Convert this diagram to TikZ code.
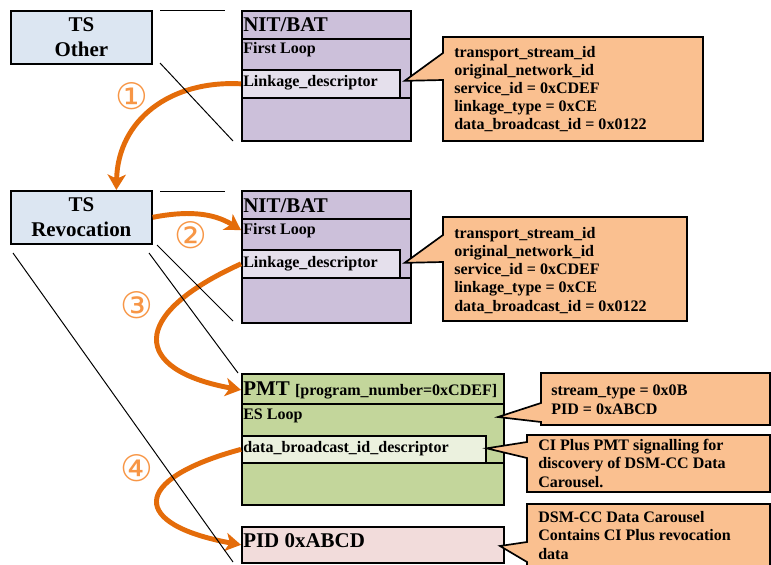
\documentclass[tikz,border=0pt]{standalone}
\usepackage{fontspec}
\setmainfont{Liberation Serif}
\newfontfamily\circfont{DejaVu Sans}
\usetikzlibrary{arrows.meta}
\usetikzlibrary{calc}

\definecolor{tsblue}{HTML}{DCE6F2}
\definecolor{nitpurple}{HTML}{CCC0DA}
\definecolor{linkpurple}{HTML}{E5E0EC}
\definecolor{pmtgreen}{HTML}{C3D69B}
\definecolor{dbgreen}{HTML}{EBF1DE}
\definecolor{pidpink}{HTML}{F2DCDB}
\definecolor{calloutorange}{HTML}{FAC090}
\definecolor{arroworange}{HTML}{E46C0A}
\definecolor{numorange}{HTML}{F79646}

\tikzset{
  box/.style 2 args={draw, line width=1.2pt, inner sep=0pt, anchor=north west,
    minimum width=#1*0.025cm, minimum height=#2*0.025cm},
  big/.style={font=\fontsize{14.9}{17.9}\selectfont\bfseries},
  small/.style={font=\fontsize{11.4}{12.9}\selectfont\bfseries, inner sep=0pt},
  label/.style={anchor=base west, inner sep=0pt},
  callout/.style={draw, line width=1.2pt, fill=calloutorange},
  flow/.style={draw=arroworange, line width=3.5pt, -{Stealth[length=11pt,width=13pt,inset=3pt]}},
  num/.style={text=numorange, font=\fontsize{26}{26}\selectfont\circfont},
  zoomline/.style={line width=0.7pt},
}

\begin{document}
\begin{tikzpicture}[x=0.025cm, y=-0.025cm]
    \useasboundingbox (0,0) rectangle (771,565);

    % transport streams
    \node[box={141}{53}, fill=tsblue, big, align=center] (tsother) at (10,10) {TS\\Other};
    \node[box={141}{53}, fill=tsblue, big, align=center] (tsrev) at (10,190) {TS\\Revocation};

    % NIT/BAT of the other TS
    \node[box={169}{130}, fill=nitpurple] (nit1) at (241,10) {};
    \node[box={169}{59}, fill=nitpurple] (loop1) at (241,38) {};
    \node[box={158}{28}, fill=linkpurple] (link1) at (241,69) {};
    \node[label, big] (nit1t) at (243,32) {NIT/BAT};
    \node[label, small] (loop1t) at (243,54) {First Loop};
    \node[label, small] (link1t) at (243,87) {Linkage\_descriptor};

    % NIT/BAT of the revocation TS
    \node[box={169}{132}, fill=nitpurple] (nit2) at (241,190) {};
    \node[box={169}{59}, fill=nitpurple] (loop2) at (241,218) {};
    \node[box={158}{28}, fill=linkpurple] (link2) at (241,249) {};
    \node[label, big] (nit2t) at (243,212) {NIT/BAT};
    \node[label, small] (loop2t) at (243,234) {First Loop};
    \node[label, small] (link2t) at (243,267) {Linkage\_descriptor};

    % PMT
    \node[box={262}{131}, fill=pmtgreen] (pmt) at (241,373) {};
    \node[box={262}{59}, fill=pmtgreen] (esloop) at (241,403) {};
    \node[box={244}{27}, fill=dbgreen] (dbid) at (241,435) {};
    \node[label, big] (pmtt) at (243,395) {PMT {\fontsize{11.4}{12}\selectfont [program\_number=0xCDEF]}};
    \node[label, small] (esloopt) at (243,419) {ES Loop};
    \node[label, small] (dbidt) at (243,452) {data\_broadcast\_id\_descriptor};

    % carousel PID
    \node[box={262}{36}, fill=pidpink] (pid) at (241,526) {};
    \node[label, big] (pidt) at (243,547) {PID 0xABCD};

    % callouts
    \draw[callout] (443,37) -- (703,37) -- (703,141) -- (443,141) -- (443,80) -- ($(link1.east)+(4,-3)$) -- (443,53) -- cycle;
    \draw[callout] (443,217) -- (687,217) -- (687,321) -- (443,321) -- (443,262) -- ($(link2.east)+(4,-1)$) -- (443,235) -- cycle;
    \draw[callout] (541,373) -- (770,373) -- (770,425) -- (541,425) -- (541,422) -- (498,417) -- (541,403) -- cycle;
    \draw[callout] (527,435) -- (770,435) -- (770,492) -- (527,492) -- (527,458) -- ($(dbid.east)+(0,-1)$) -- (527,442) -- cycle;
    \draw[callout] (527,504) -- (770,504) -- (770,570) -- (527,570) -- (527,562) -- (500,546) -- (527,542) -- cycle;

    % multi-line texts sit on the baseline of their last line
    \node[label, small, align=left] (info1) at (454,130) {transport\_stream\_id\\original\_network\_id\\service\_id = 0xCDEF\\linkage\_type = 0xCE\\data\_broadcast\_id = 0x0122};
    \node[label, small, align=left] (info2) at (454,311) {transport\_stream\_id\\original\_network\_id\\service\_id = 0xCDEF\\linkage\_type = 0xCE\\data\_broadcast\_id = 0x0122};
    \node[label, small, align=left] (info3) at (551,414) {stream\_type = 0x0B\\PID = 0xABCD};
    \node[label, small, align=left] (info4) at (538,487) {CI Plus PMT signalling for\\discovery of DSM-CC Data\\Carousel.};
    \node[label, small, align=left] (info5) at (538,559) {DSM-CC Data Carousel\\Contains CI Plus revocation\\data};

    % steps
    \draw[flow] (link1.west) .. controls (170,80) and (118,120) .. ($(tsrev.north)+(35,0)$);
    \draw[flow] (tsrev.east) .. controls (185,211) and (212,212) .. (loop2.west |- loop2t.west);
    \draw[flow] (link2.west) .. controls (128,315) and (132,370) .. (pmt.west |- pmtt.west);
    \draw[flow] (dbid.west) .. controls (128,480) and (132,525) .. (pid.west);

    \node[num] (n1) at (132,96) {①};
    \node[num] (n2) at (191,235) {②};
    \node[num] (n3) at (137,305) {③};
    \node[num] (n4) at (137,468) {④};

    % zoom lines
    \draw[zoomline] (160,10) -- (225,10);
    \draw[zoomline] (160,63) -- (233,141);
    \draw[zoomline] (160,191) -- (225,191);
    \draw[zoomline] (157,245) -- (233,321);
    \draw[zoomline] (149,253) -- (238,373);
    \draw[zoomline] (13,253) -- (233,562);
\end{tikzpicture}
\end{document}
